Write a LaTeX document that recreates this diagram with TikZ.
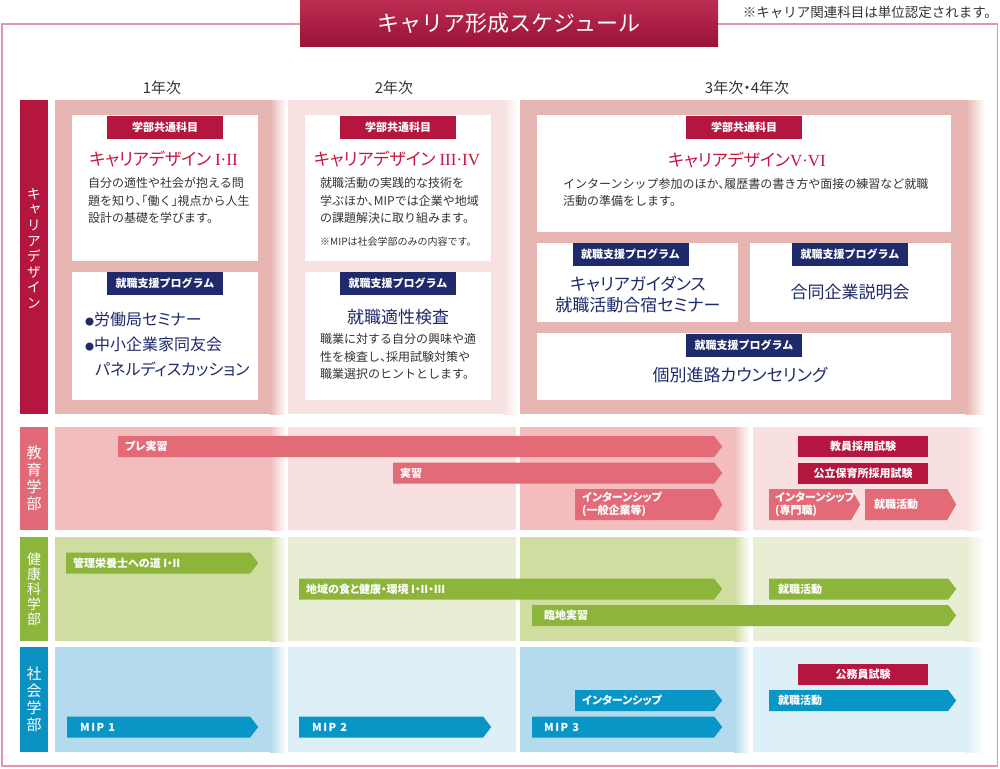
\documentclass[tikz,border=0pt]{standalone}
\usepackage{fontspec}
\setmainfont{Noto Sans CJK JP}[RawFeature=+halt]
\newfontfamily\jpp{Noto Sans CJK JP}[RawFeature=+palt]
\newfontfamily\jpv{Noto Sans CJK JP}[RawFeature=+vert]
\newfontfamily\romanno{Liberation Serif}
\usetikzlibrary{shapes.symbols}

\definecolor{crimson}{HTML}{B5163F}
\definecolor{navy}{HTML}{1F2A6B}
\definecolor{redtitle}{HTML}{C8143F}
\definecolor{bodygray}{HTML}{333333}
\definecolor{framepink}{HTML}{E295B0}
\definecolor{cardk}{HTML}{E6B5B2}
\definecolor{carlt}{HTML}{F8E1E1}
\definecolor{edulabel}{HTML}{E26A78}
\definecolor{edubar}{HTML}{E36B77}
\definecolor{edudk}{HTML}{F3BDBD}
\definecolor{edult}{HTML}{F9E0E0}
\definecolor{hslabel}{HTML}{8BB63B}
\definecolor{hsbar}{HTML}{8DB53C}
\definecolor{hsdk}{HTML}{CFDDA1}
\definecolor{hslt}{HTML}{E7EED4}
\definecolor{soclabel}{HTML}{0A90C1}
\definecolor{socbar}{HTML}{0896C6}
\definecolor{socdk}{HTML}{B3DAED}
\definecolor{soclt}{HTML}{DEF0F7}

\begin{document}
\begin{tikzpicture}[x=1pt, y=-1pt,
    card/.style={fill=white, anchor=north west, inner sep=0pt},
    subjtag/.style={fill=crimson, text=white, font=\bfseries\fontsize{11}{11}\selectfont, minimum width=116pt, minimum height=23pt, inner sep=0pt},
    progtag/.style={subjtag, fill=navy},
    cdtitle/.style={text=redtitle, font=\jpp\fontsize{17}{17}\selectfont, inner sep=0pt},
    body/.style={text=bodygray, font=\fontsize{12}{17.5}\selectfont, align=left, anchor=west, inner sep=0pt},
    prog/.style={text=navy, font=\jpp\fontsize{17}{21}\selectfont, align=center, inner sep=0pt},
    year/.style={text=bodygray, font=\fontsize{15}{15}\selectfont, inner sep=0pt},
    sidebar/.style={anchor=north west, minimum width=28pt, inner sep=0pt, text=white, align=center, font=\jpv\fontsize{15}{17}\selectfont},
    bar/.style={signal, signal to=east, signal pointer angle=105, fill=#1, anchor=west, inner sep=0pt, minimum height=21pt},
    tallbar/.style={minimum height=31pt, signal pointer angle=120},
    bartext/.style={text=white, font=\jpp\bfseries\fontsize{11}{13}\selectfont, align=left, anchor=west, xshift=7pt, inner sep=0pt},
    exam/.style={fill=crimson, text=white, font=\bfseries\fontsize{11}{11}\selectfont, minimum width=130pt, minimum height=21pt, inner sep=0pt}]

  \useasboundingbox (0,0) rectangle (1000,768);

  % frame and title
  \draw[framepink, line width=1.5pt] (300,24) -- (2,24) -- (2,766) -- (997.5,766) -- (997.5,24) -- (718,24);
  \node[anchor=north west, minimum width=418pt, minimum height=46pt, inner sep=0pt, top color=crimson!90!white, bottom color=crimson!85!black, text=white, font=\fontsize{22}{22}\selectfont] (title) at (300,0) {キャリア形成スケジュール};
  \node[text=bodygray, font=\fontsize{13.5}{13.5}\selectfont, inner sep=0pt] (note) at (867,12.5) {※キャリア関連科目は単位認定されます。};

  \node[year] (y1) at (162,87.5) {1年次};
  \node[year] (y2) at (394,87.5) {2年次};
  \node[year] (y34) at (747,87.5) {3年次・4年次};

  % career design row
  \fill[cardk] (55,100) rectangle (270,414);
  \shade[left color=cardk, right color=white] (270,100) rectangle (286,414);
  \fill[carlt] (288,100) rectangle (504,414);
  \shade[left color=carlt, right color=white] (504,100) rectangle (517,414);
  \fill[cardk] (520,100) rectangle (966,414);
  \shade[left color=cardk, right color=white] (966,100) rectangle (985,414);

  % faculty rows
  \foreach \ya/\yb/\dk/\lt in {427/530/edudk/edult, 537/641/hsdk/hslt, 647/752/socdk/soclt} {
    \fill[\dk] (55,\ya) rectangle (270,\yb);
    \shade[left color=\dk, right color=white] (270,\ya) rectangle (286,\yb);
    \fill[\lt] (288,\ya) rectangle (516,\yb);
    \fill[\dk] (520,\ya) rectangle (734,\yb);
    \shade[left color=\dk, right color=white] (734,\ya) rectangle (750,\yb);
    \fill[\lt] (753,\ya) rectangle (966,\yb);
    \shade[left color=\lt, right color=white] (966,\ya) rectangle (984,\yb);
  }

  % side labels
  \node[sidebar, fill=crimson, minimum height=314pt] (carlbl) at (20,100) {};
  \node[sidebar, anchor=center, font=\jpv\fontsize{14}{15.6}\selectfont] (cartxt) at (34,248.5) {キ\\ャ\\リ\\ア\\デ\\ザ\\イ\\ン};
  \node[sidebar, fill=edulabel, minimum height=103pt] (edulbl) at (20,427) {教\\育\\学\\部};
  \node[sidebar, fill=hslabel, minimum height=104pt, font=\jpv\fontsize{14}{15}\selectfont] (hslbl) at (20,537) {健\\康\\科\\学\\部};
  \node[sidebar, fill=soclabel, minimum height=105pt] (soclbl) at (20,647) {社\\会\\学\\部};

  % cards
  \node[card, minimum width=186pt, minimum height=146pt] (cd1) at (72,115) {};
  \node[card, minimum width=186pt, minimum height=128pt] (sp1) at (72,272) {};
  \node[card, minimum width=186pt, minimum height=146pt] (cd2) at (305,115) {};
  \node[card, minimum width=186pt, minimum height=128pt] (sp2) at (305,272) {};
  \node[card, minimum width=414pt, minimum height=117pt] (cd3) at (537,115) {};
  \node[card, minimum width=201pt, minimum height=79pt] (sp3) at (537,243) {};
  \node[card, minimum width=201pt, minimum height=79pt] (sp4) at (750,243) {};
  \node[card, minimum width=414pt, minimum height=67pt] (sp5) at (537,333) {};

  \node[subjtag] (cd1tag) at (165,127) {学部共通科目};
  \node[subjtag] (cd2tag) at (398,127) {学部共通科目};
  \node[subjtag] (cd3tag) at (744,127) {学部共通科目};
  \node[progtag] (sp1tag) at (165,283.5) {就職支援プログラム};
  \node[progtag] (sp2tag) at (398,283.5) {就職支援プログラム};
  \node[progtag] (sp3tag) at (630.5,254.5) {就職支援プログラム};
  \node[progtag] (sp4tag) at (850,254.5) {就職支援プログラム};
  \node[progtag] (sp5tag) at (744,345) {就職支援プログラム};

  \node[cdtitle] (cd1ttl) at (163.5,159.5) {キャリアデザイン {\romanno I·II}};
  \node[cdtitle] (cd2ttl) at (397,159.5) {キャリアデザイン {\romanno III·IV}};
  \node[cdtitle] (cd3ttl) at (747,160) {キャリアデザイン{\romanno V·VI}};

  \node[body] (cd1txt) at (88,200.5) {自分の適性や社会が抱える問\\題を知り、「働く」視点から人生\\設計の基礎を学びます。};
  \node[body] (cd2txt) at (320,200.5) {就職活動の実践的な技術を\\学ぶほか、MIPでは企業や地域\\の課題解決に取り組みます。};
  \node[body, font=\fontsize{10}{10}\selectfont] (cd2note) at (320,242) {※MIPは社会学部のみの内容です。};
  \node[body] (cd3txt) at (563,192.5) {インターンシップ参加のほか、履歴書の書き方や面接の練習など就職\\活動の準備をします。};

  \node[prog, align=left, anchor=west, font=\jpp\fontsize{16}{25}\selectfont] (sp1txt) at (85,344.5) {{\fontsize{9}{9}\selectfont ●}労働局セミナー\\{\fontsize{9}{9}\selectfont ●}中小企業家同友会\\\hspace*{10pt}パネルディスカッション};
  \node[prog] (sp2ttl) at (398,317) {就職適性検査};
  \node[body] (sp2txt) at (320,356.5) {職業に対する自分の興味や適\\性を検査し、採用試験対策や\\職業選択のヒントとします。};
  \node[prog] (sp3txt) at (638,294.5) {キャリアガイダンス\\就職活動合宿セミナー};
  \node[prog] (sp4txt) at (850,292) {合同企業説明会};
  \node[prog] (sp5txt) at (740,375) {個別進路カウンセリング};

  % education
  \node[bar=edubar, minimum width=604pt, label={[bartext]west:プレ実習}] (pre) at (118,446.5) {};
  \node[bar=edubar, minimum width=329pt, label={[bartext]west:実習}] (prac) at (393,473) {};
  \node[bar=edubar, tallbar, minimum width=147pt, label={[bartext]west:インターンシップ\\(一般企業等)}] (eduint) at (575,504.5) {};
  \node[exam] (tchexam) at (863,446.5) {教員採用試験};
  \node[exam] (nurexam) at (863,473) {公立保育所採用試験};
  \node[bar=edubar, tallbar, minimum width=91pt, label={[bartext, xshift=-1pt]west:インターンシップ\\(専門職)}] (eduintp) at (769,504.5) {};
  \node[bar=edubar, tallbar, minimum width=91pt, label={[bartext, xshift=2pt]west:就職活動}] (edujob) at (865,504.5) {};

  % health science
  \node[bar=hsbar, minimum width=192pt, label={[bartext]west:管理栄養士への道 I・II}] (diet) at (66,563) {};
  \node[bar=hsbar, minimum width=423pt, label={[bartext]west:地域の食と健康・環境 I・II・III}] (local) at (299,589) {};
  \node[bar=hsbar, minimum width=187pt, label={[bartext, xshift=2pt]west:就職活動}] (hsjob) at (769,589) {};
  \node[bar=hsbar, minimum width=424pt, label={[bartext, xshift=5pt]west:臨地実習}] (clin) at (532,615.5) {};

  % social
  \node[bar=socbar, minimum width=191pt, label={[bartext, xshift=6pt]west:M\kern1.5pt I\kern1.5pt P\kern1.5pt{} 1}] (mip1) at (67,727) {};
  \node[bar=socbar, minimum width=192pt, label={[bartext, xshift=6pt]west:M\kern1.5pt I\kern1.5pt P\kern1.5pt{} 2}] (mip2) at (299,727) {};
  \node[bar=socbar, minimum width=147pt, label={[bartext]west:インターンシップ}] (socint) at (575,700.5) {};
  \node[bar=socbar, minimum width=190pt, label={[bartext, xshift=5pt]west:M\kern1.5pt I\kern1.5pt P\kern1.5pt{} 3}] (mip3) at (532,727) {};
  \node[exam] (pubexam) at (863,674) {公務員試験};
  \node[bar=socbar, minimum width=187pt, label={[bartext, xshift=2pt]west:就職活動}] (socjob) at (769,700.5) {};
\end{tikzpicture}
\end{document}
